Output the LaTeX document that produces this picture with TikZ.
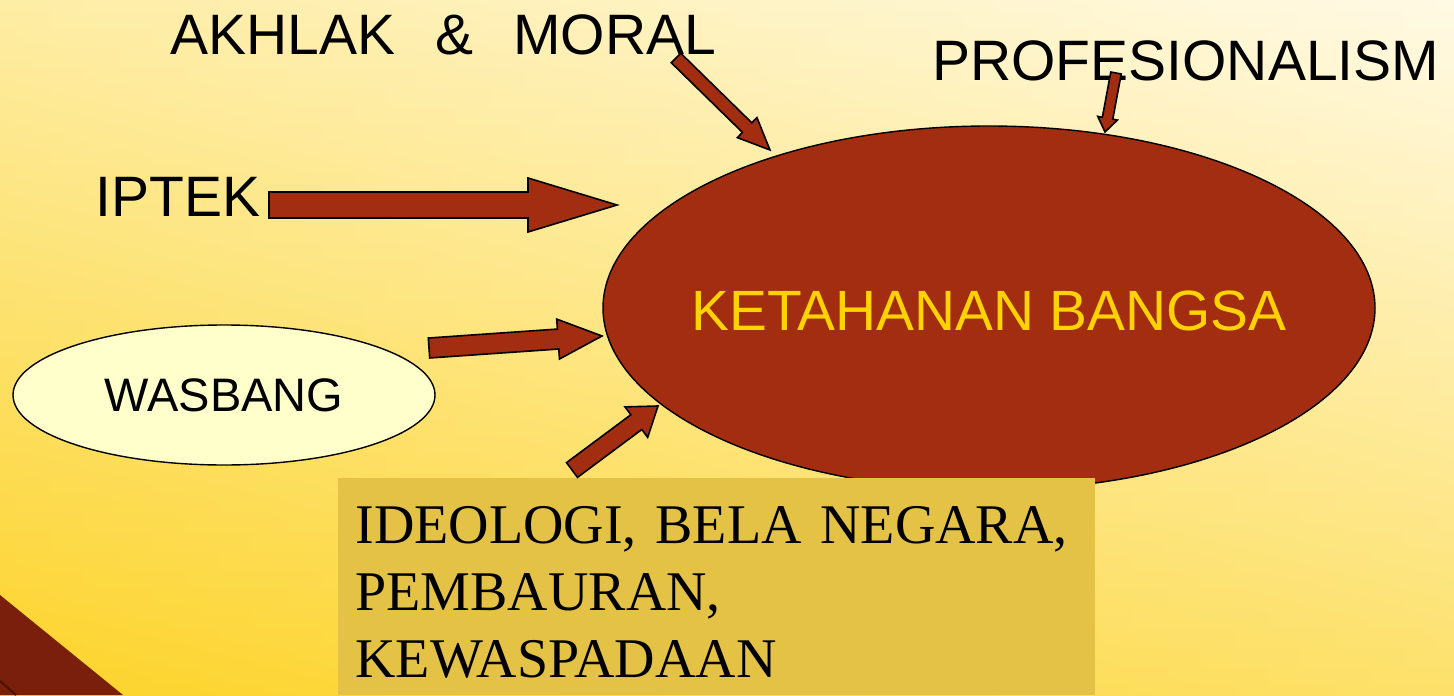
\documentclass[tikz,border=0pt]{standalone}
\usepackage{fontspec}
\setmainfont{Liberation Serif}
\setsansfont{Liberation Sans}
\usetikzlibrary{shapes.geometric,calc}

\definecolor{bgtop}{HTML}{FFF8DA}
\definecolor{bgmid}{HTML}{FEEBA8}
\definecolor{bgbot}{HTML}{FDD42A}
\definecolor{bandred}{HTML}{7A1F0C}
\definecolor{arrowred}{HTML}{A32D10}
\definecolor{titlegold}{HTML}{FFD200}
\definecolor{paleyellow}{HTML}{FFFFCC}
\definecolor{boxgold}{HTML}{E4C245}

\tikzset{
  blockarrow/.style={fill=arrowred,draw=black,line width=0.8pt,line join=miter},
  bigtext/.style={font=\sffamily\fontsize{28.5}{34}\selectfont,inner sep=0pt},
  bangsatext/.style={font=\sffamily\fontsize{28.4}{34}\selectfont,text=titlegold,inner sep=0pt,yshift=-1.5pt},
}

% tail, tip, shaft half width, head half width, head length (in px)
\newcommand{\fatarrow}[5]{%
  \filldraw[blockarrow] let \p1=(#1), \p2=(#2),
    \n1={atan2(\y2-\y1,\x2-\x1)}, \n2={veclen(\x2-\x1,\y2-\y1)} in
    [shift={(\p1)},rotate=\n1]
    (0pt,#3*0.5pt) -- (\n2-#5*0.5pt,#3*0.5pt) -- (\n2-#5*0.5pt,#4*0.5pt) -- (\n2,0pt)
    -- (\n2-#5*0.5pt,-#4*0.5pt) -- (\n2-#5*0.5pt,-#3*0.5pt) -- (0pt,-#3*0.5pt) -- cycle;
}

\begin{document}
\begin{tikzpicture}[x=0.5pt,y=-0.5pt]

  \useasboundingbox (0,0) rectangle (1454,695);
  \shade[top color=bgtop,middle color=bgmid,bottom color=bgbot] (0,0) rectangle (1454,695);
  \shade[left color=bgbot,right color=white,opacity=0.3] (0,0) rectangle (1454,695);
  \fill[bandred] (0,595) -- (123,695) -- (0,695) -- cycle;
  \draw[bandred!60!black,line width=1pt] (0,681) -- (16,695);

  \node[ellipse,draw,line width=0.7pt,fill=arrowred,minimum width=386pt,minimum height=182pt,inner sep=0pt,
        label={[bangsatext]center:KETAHANAN BANGSA}] (bangsa) at (989,308) {};
  \node[ellipse,draw,line width=0.7pt,fill=paleyellow,minimum width=211pt,minimum height=70pt,inner sep=0pt,
        font=\sffamily\fontsize{23.5}{28}\selectfont] (wasbang) at (224,395) {WASBANG};

  \node[fill=boxgold,anchor=north west,text width=361.5pt,minimum height=108.5pt,
        inner xsep=8.5pt,inner ysep=0pt,align=left,
        font=\rmfamily\fontsize{28}{33.5}\selectfont] (ideologi) at (338,478)
        {\rule{0pt}{24pt}IDEOLOGI, BELA NEGARA,\\PEMBAURAN,\\KEWASPADAAN};

  \begin{scope}[every node/.style={bigtext,anchor=base west}]
    \node (akhlak)  at (170,55) {AKHLAK\hspace{20pt}\&\hspace{20pt}MORAL};
    \node (profesi) at (932,81) {PROFESIONALISM};
    \node (iptek)   at (95,216) {IPTEK};
  \end{scope}

  \coordinate (akhlak tail)   at (676,58);
  \coordinate (akhlak tip)    at (770,150);
  \coordinate (profesi tail)  at (1116,73);
  \coordinate (profesi tip)   at (1105,132);
  \coordinate (iptek tail)    at (269,205);
  \coordinate (iptek tip)     at (617,205);
  \coordinate (wasbang tail)  at (429,348);
  \coordinate (wasbang tip)   at (602,336);
  \coordinate (ideologi tail) at (572,470);
  \coordinate (ideologi tip)  at (658,406);

  \fatarrow{akhlak tail}{akhlak tip}{6.7}{14}{32}
  \fatarrow{profesi tail}{profesi tip}{5.3}{10}{14}
  \fatarrow{iptek tail}{iptek tip}{13}{27}{89}
  \fatarrow{wasbang tail}{wasbang tip}{10}{20}{44}
  \fatarrow{ideologi tail}{ideologi tip}{9.2}{19}{27}

\end{tikzpicture}
\end{document}
